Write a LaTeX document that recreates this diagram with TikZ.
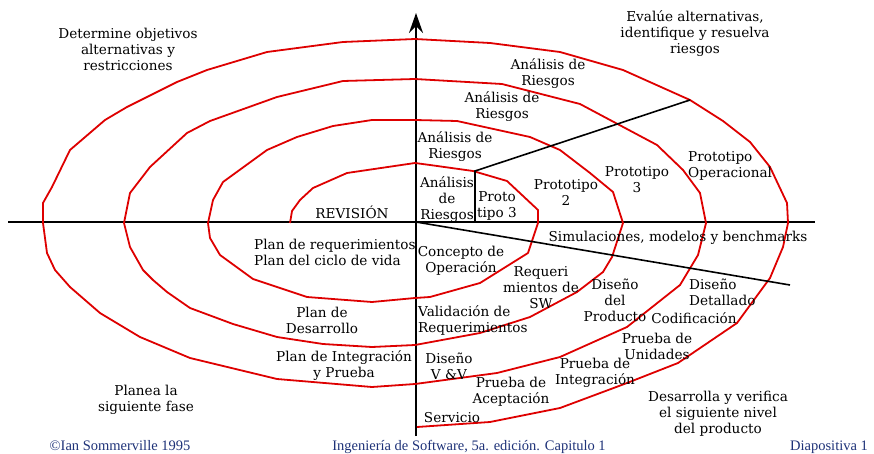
\documentclass[tikz,border=0pt]{standalone}
\usepackage{fontspec}
\setmainfont{DejaVu Serif}
\newfontfamily\footfont{Liberation Serif}
\usetikzlibrary{arrows.meta}

\definecolor{spiralred}{RGB}{222,0,0}
\definecolor{footblue}{RGB}{30,50,120}

\tikzset{
  lbl/.style = {font = \fontsize{13.6}{16}\selectfont, align = center, inner sep = 0pt},
  foot/.style = {font = \footfont\fontsize{14.5}{16}\selectfont, text = footblue, inner sep = 0pt, anchor = base},
  spiral/.style = {spiralred, line width = 1.8pt, line join = round},
  axis/.style = {black, line width = 2pt}
}

\begin{document}
\begin{tikzpicture}[x = 1pt, y = -1pt]
  \useasboundingbox (0, 0) rectangle (874, 454);

  % axes
  \draw[axis] (8, 222) -- (815, 222);
  \draw[axis, -{Stealth[length = 20pt, width = 14pt, inset = 7pt]}] (416, 436) -- (416, 13);
  \coordinate (O) at (416, 222);

  % spiral
  \draw[spiral] (290, 223) -- (292, 211) -- (300, 200) -- (313, 188) -- (347, 173)
    -- (415, 163) -- (430, 165) -- (473, 171) -- (507, 181) -- (538, 210) -- (538, 223)
    -- (528, 253) -- (480, 283) -- (430, 297) -- (415, 298) -- (372, 302) -- (307, 297)
    -- (253, 279) -- (220, 255) -- (210, 238) -- (208, 223)
    -- (213, 200) -- (223, 182) -- (267, 150) -- (297, 137) -- (333, 126) -- (372, 120)
    -- (415, 120) -- (457, 121) -- (530, 137) -- (560, 150) -- (590, 173) -- (613, 192)
    -- (623, 223)
    -- (612, 257) -- (603, 272) -- (577, 292) -- (530, 317) -- (480, 333) -- (415, 345)
    -- (372, 347) -- (323, 344) -- (277, 337) -- (233, 324) -- (190, 308) -- (167, 292)
    -- (153, 280) -- (143, 270) -- (130, 247) -- (124, 223)
    -- (130, 193) -- (150, 167) -- (187, 133) -- (210, 121) -- (277, 97) -- (343, 81)
    -- (415, 79) -- (502, 84) -- (580, 104) -- (657, 145) -- (683, 170) -- (700, 193)
    -- (706, 223)
    -- (698, 255) -- (680, 285) -- (627, 327) -- (560, 357) -- (497, 373) -- (415, 384)
    -- (372, 387) -- (277, 379) -- (190, 358) -- (140, 337) -- (100, 313) -- (70, 287)
    -- (55, 270) -- (47, 253) -- (43, 223)
    -- (43, 203) -- (52, 187) -- (70, 150) -- (105, 120) -- (127, 107) -- (177, 82)
    -- (207, 70) -- (267, 52) -- (343, 42) -- (415, 39) -- (490, 43) -- (560, 52)
    -- (623, 70) -- (690, 100) -- (723, 121) -- (750, 142) -- (770, 167) -- (787, 203)
    -- (788, 223)
    -- (783, 247) -- (770, 278) -- (737, 323) -- (678, 363) -- (627, 383) -- (560, 408)
    -- (490, 422) -- (417, 427);

  % radial lines
  \coordinate (P1) at (475, 222);
  \coordinate (P2) at (475, 171);
  \coordinate (P3) at (690, 100);
  \coordinate (P4) at (790, 285);
  \draw[line width = 1.6pt] (P1) -- (P2) -- (P3);
  \draw[line width = 1.6pt] (O) -- (P4);

  % quadrant texts
  \node[lbl] (objetivos) at (128, 49) {Determine objetivos\\alternativas y\\restricciones};
  \node[lbl] (evalue) at (695, 34) {Evalúe alternativas,\\identifique y resuelva\\riesgos};
  \node[lbl] (planea) at (146, 400) {Planea la\\siguiente fase};
  \node[lbl] (desarrolla) at (718, 414) {Desarrolla y verifica\\el siguiente nivel\\del producto};

  % risk analysis
  \node[lbl] (riesgos4) at (548, 74) {Análisis de\\Riesgos};
  \node[lbl] (riesgos3) at (502, 107) {Análisis de\\Riesgos};
  \node[lbl] (riesgos2) at (455, 147) {Análisis de\\Riesgos};
  \node[lbl] (riesgos1) at (447, 200) {Análisis\\de\\Riesgos};

  % prototypes
  \node[lbl] (proto1) at (497, 206) {Proto\\tipo 3};
  \node[lbl] (proto2) at (566, 192) {Prototipo\\2};
  \node[lbl] (proto3) at (637, 180) {Prototipo\\3};
  \node[lbl, align = left, anchor = west] (proto4) at (688, 166) {Prototipo\\Operacional};
  \node[lbl] (simul) at (678, 238) {Simulaciones, modelos y benchmarks};

  % planning
  \node[lbl] (revision) at (352, 212) {REVISIÓN};
  \node[lbl, align = left, anchor = west] (planreq) at (254, 252) {Plan de requerimientos\\Plan del ciclo de vida};
  \node[lbl] (plandes) at (322, 320) {Plan de\\Desarrollo};
  \node[lbl] (planint) at (344, 366) {Plan de Integración\\y Prueba};

  % development
  \node[lbl] (concepto) at (461, 261) {Concepto de\\Operación};
  \node[lbl] (requeri) at (541, 288) {Requeri\\mientos de\\SW};
  \node[lbl] (disprod) at (615, 300) {Diseño\\del\\Producto};
  \node[lbl, align = left, anchor = west] (disdet) at (689, 292) {Diseño\\Detallado};
  \node[lbl] (codif) at (694, 318) {Codificación};
  \node[lbl, align = left, anchor = west] (valid) at (418, 320) {Validación de\\Requerimientos};
  \node[lbl] (disvv) at (449, 366) {Diseño\\V \&V};
  \node[lbl] (unidades) at (657, 346) {Prueba de\\Unidades};
  \node[lbl] (integ) at (595, 373) {Prueba de\\Integración};
  \node[lbl] (acept) at (511, 392) {Prueba de\\Aceptación};
  \node[lbl] (servicio) at (452, 418) {Servicio};

  % footer
  \node[foot] (autor) at (120, 450) {©Ian Sommerville 1995};
  \node[foot] (libro) at (469, 450) {Ingeniería de Software, 5a. edición. Capitulo 1};
  \node[foot] (diapo) at (829, 450) {Diapositiva 1};
\end{tikzpicture}
\end{document}
